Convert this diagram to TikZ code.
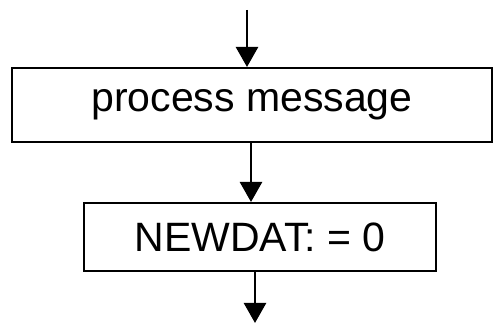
\documentclass[tikz,border=0pt]{standalone}
\usepackage{fontspec}
\setmainfont{Liberation Sans}
\usetikzlibrary{arrows.meta}

\tikzset{
  procbox/.style={draw,line width=2,inner sep=0pt,
    font=\fontsize{41}{49}\selectfont},
  flow/.style={line width=2.5,-{Triangle[width=22,length=20]}}
}

\begin{document}
\begin{tikzpicture}[x=1pt,y=1pt]
    \useasboundingbox (0,0) rectangle (493,323);
    \node[procbox,minimum width=480,minimum height=74] (msg) at (252,218) {process message};
    \node[procbox,minimum width=352,minimum height=68] (newdat) at (260,86) {NEWDAT: = 0};
    \coordinate (in) at (247,313);
    \coordinate (out) at (255,0);
    \draw[flow] (in) -- (in |- msg.north);
    \draw[flow] (msg.south -| 251,0) -- (251,0 |- newdat.north);
    \draw[flow] (newdat.south -| out) -- (out);
  \end{tikzpicture}
\end{document}
